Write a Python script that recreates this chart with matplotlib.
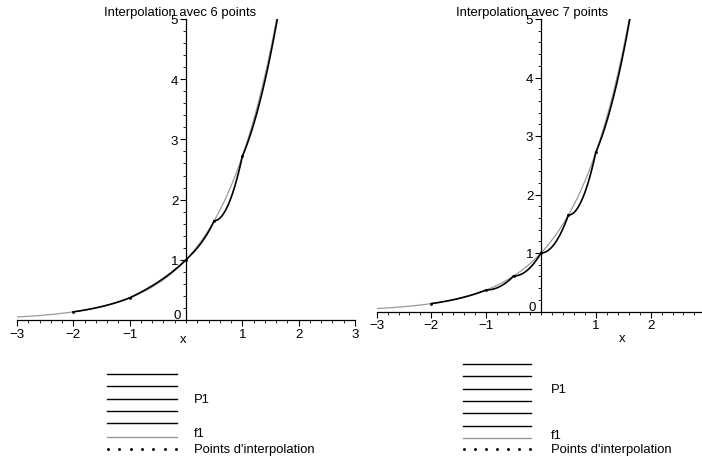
import numpy as np
import matplotlib.pyplot as plt
from matplotlib.lines import Line2D
from matplotlib.ticker import MultipleLocator

plt.rcParams['font.family'] = ['Liberation Sans', 'DejaVu Sans']
plt.rcParams['font.size'] = 9.4

# abscisses des points d'interpolation
x6 = [-2, -1, 0, 0.5, 1, 2]
x7 = [-2, -1, -0.5, 0, 0.5, 1, 2]

# pentes de P1 au debut et a la fin de chaque morceau
d6_start = [0.135, 0.45, 0.9, 0.0, 2.2]
d6_end = [0.368, 0.9, 2.0, 4.28, 7.39]
d7_start = [0.135, 0.0, 0.0, 0.0, 0.0, 2.2]
d7_end = [0.368, 0.96, 1.57, 2.59, 4.28, 7.39]

titles = ["Interpolation avec 6 points", "Interpolation avec 7 points"]
xticks = [-3, -2, -1, 1, 2, 3]
yticks = [1, 2, 3, 4, 5]
labels = ["P1", "f1", "Points d'interpolation"]

f1 = np.exp
GRAY = '#9a9a9a'
W, H = 702, 464


def fx(p):
    return p / W


def fy(p):
    return 1 - p / H


def hermite(a, b, ya, yb, da, db, n=80):
    t = np.linspace(0, 1, n)
    h = b - a
    h00 = 2 * t**3 - 3 * t**2 + 1
    h01 = -2 * t**3 + 3 * t**2
    h10 = t**3 - 2 * t**2 + t
    h11 = t**3 - t**2
    return a + h * t, ya * h00 + yb * h01 + h * (da * h10 + db * h11)


def setup(ax):
    ax.set_xlim(-3, 3)
    ax.set_ylim(0, 5)
    ax.patch.set_alpha(0)
    ax.spines['left'].set_position(('data', 0))
    ax.spines['bottom'].set_position(('data', 0))
    ax.spines[['top', 'right']].set_visible(False)
    for s in ('left', 'bottom'):
        ax.spines[s].set_linewidth(0.9)
    ax.set_xticks(xticks)
    ax.set_yticks(yticks)
    ax.xaxis.set_minor_locator(MultipleLocator(0.2))
    ax.yaxis.set_minor_locator(MultipleLocator(0.2))
    ax.tick_params(which='major', length=4, width=0.8, pad=1.5, labelsize=9.6)
    ax.tick_params(which='minor', length=2.2, width=0.6)
    ax.annotate('0', xy=(0, 0), xytext=(-4, 3.5), textcoords='offset points',
                ha='right', va='center', fontsize=9.6)


def draw(ax, xs, d0, d1):
    xx = np.linspace(-3, 2, 400)
    ax.plot(xx, f1(xx), color=GRAY, lw=0.9, zorder=2)
    ys = f1(np.array(xs, dtype=float))
    for i in range(len(xs) - 1):
        px_, py_ = hermite(xs[i], xs[i + 1], ys[i], ys[i + 1], d0[i], d1[i])
        ax.plot(px_, py_, color='black', lw=1.2, zorder=3)
    ax.plot(xs, ys, 'o', color='black', ms=1.0, zorder=4)


def legend(nseg, x0, x1, tx, top, ytxt_p1, ygray, yf1, ydots):
    ys = [top + i * 12.3 for i in range(nseg)]
    for y in ys:
        fig.add_artist(Line2D([fx(x0), fx(x1)], [fy(y), fy(y)], color='black',
                              lw=1.0, transform=fig.transFigure))
    fig.add_artist(Line2D([fx(x0), fx(x1)], [fy(ygray), fy(ygray)], color=GRAY,
                          lw=1.0, transform=fig.transFigure))
    dots = np.linspace(x0 + 1, x1 - 1, 7)
    fig.add_artist(Line2D(fx(dots), [fy(ydots)] * 7, ls='none', marker='o', ms=1.1,
                          color='black', transform=fig.transFigure))
    fig.text(fx(tx), fy(ytxt_p1), labels[0], ha='left', va='center')
    fig.text(fx(tx), fy(yf1), labels[1], ha='left', va='center')
    fig.text(fx(tx), fy(ydots), labels[2], ha='left', va='center')


fig = plt.figure(figsize=(W / 100, H / 100), dpi=100)

ax1 = fig.add_axes([fx(17), fy(321), (355 - 17) / W, (321 - 20) / H])
ax2 = fig.add_axes([fx(376.6), fy(312.5), (705.4 - 376.6) / W, (312.5 - 20) / H])

for ax in (ax1, ax2):
    setup(ax)

draw(ax1, x6, d6_start, d6_end)
draw(ax2, x7, d7_start, d7_end)

fig.text(fx(180), fy(13), titles[0], ha='center', va='center')
fig.text(fx(532), fy(13), titles[1], ha='center', va='center')
fig.text(fx(183), fy(340), 'x', ha='center', va='center')
fig.text(fx(622), fy(339), 'x', ha='center', va='center')

legend(len(x6) - 1, 107, 177, 194, 375, 400, 437.5, 434, 450)
legend(len(x7) - 1, 463, 531, 551, 365, 390, 438.5, 436, 450)

fig.savefig('out.png', dpi=100)
